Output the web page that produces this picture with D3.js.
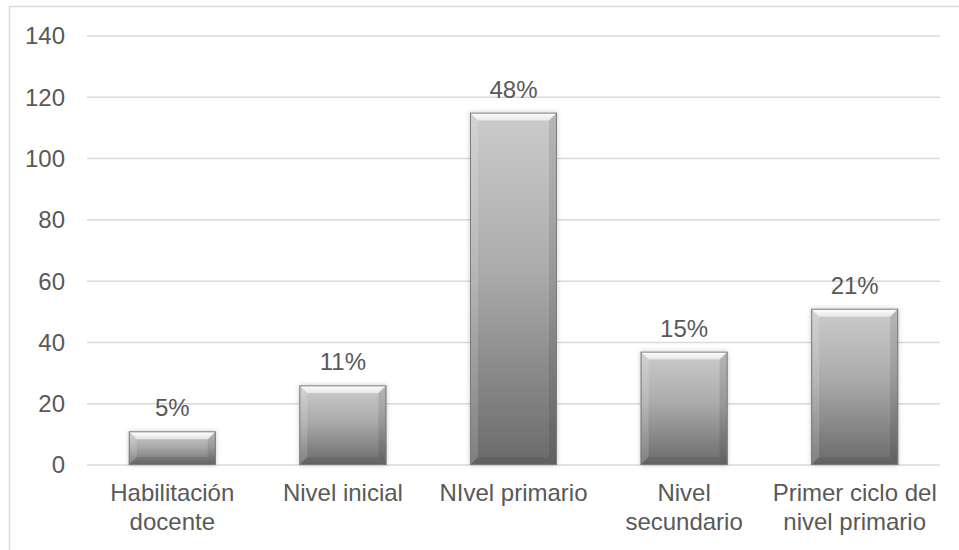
<!DOCTYPE html>
<html>
<head>
<meta charset="utf-8">
<script src="https://cdn.jsdelivr.net/npm/d3@7"></script>
<style>
  body { margin: 0; background: #fff; }
  text { font-family: "Liberation Sans", Arial, sans-serif; fill: #595959; }
</style>
</head>
<body>
<svg id="chart" width="959" height="550"></svg>
<script>
// data
const categories = [["Habilitación", "docente"], ["Nivel inicial"], ["NIvel primario"], ["Nivel", "secundario"], ["Primer ciclo del", "nivel primario"]]
const values = [11, 26, 115, 37, 51]
const percentLabels = ["5%", "11%", "48%", "15%", "21%"]
const yTicks = [0, 20, 40, 60, 80, 100, 120, 140]

const W = 959, H = 550
const plot = { left: 87, right: 940, top: 36, bottom: 465 }
const bevel = 8
const fontSize = 24

const svg = d3.select('#chart')

// frame (left and top only show in the crop)
svg.append('path')
	.attr('d', `M9.5,${H} V6.5 H${W}`)
	.attr('fill', 'none')
	.attr('stroke', '#d9d9d9')
	.attr('stroke-width', 1.5)

const x = d3.scaleBand()
	.domain(d3.range(values.length))
	.range([plot.left, plot.right])
	.paddingInner(0.49)
	.paddingOuter(0.245)

const y = d3.scaleLinear()
	.domain([0, 140])
	.range([plot.bottom, plot.top])

// gradients
const defs = svg.append('defs')
const body = defs.append('linearGradient').attr('id', 'body')
	.attr('x1', 0).attr('y1', 0).attr('x2', 0).attr('y2', 1)
body.append('stop').attr('offset', 0).attr('stop-color', '#cccccc')
body.append('stop').attr('offset', 0.45).attr('stop-color', '#ababab')
body.append('stop').attr('offset', 1).attr('stop-color', '#6a6a6a')

const topBevel = defs.append('linearGradient').attr('id', 'topBevel')
	.attr('x1', 0).attr('y1', 0).attr('x2', 0).attr('y2', 1)
topBevel.append('stop').attr('offset', 0).attr('stop-color', '#ffffff').attr('stop-opacity', 1)
topBevel.append('stop').attr('offset', 1).attr('stop-color', '#ffffff').attr('stop-opacity', 0.55)

const filter = defs.append('filter').attr('id', 'shadow')
	.attr('x', '-20%').attr('y', '-20%').attr('width', '140%').attr('height', '140%')
filter.append('feDropShadow')
	.attr('dx', 0).attr('dy', 0).attr('stdDeviation', 2.5)
	.attr('flood-color', '#000').attr('flood-opacity', 0.22)

// grid
svg.append('g')
	.selectAll('line')
	.data(yTicks)
	.join('line')
	.attr('x1', plot.left).attr('x2', plot.right)
	.attr('y1', d => y(d)).attr('y2', d => y(d))
	.attr('stroke', '#d9d9d9')
	.attr('stroke-width', 1.5)

// y labels
svg.append('g')
	.selectAll('text')
	.data(yTicks)
	.join('text')
	.attr('x', 65)
	.attr('y', d => y(d))
	.attr('dy', '0.35em')
	.attr('text-anchor', 'end')
	.attr('font-size', fontSize)
	.text(d => d)

// bars
const bars = svg.append('g')
	.selectAll('g')
	.data(values)
	.join('g')
	.attr('transform', (d, i) => `translate(${x(i)},${y(d)})`)

bars.append('rect')
	.attr('width', x.bandwidth())
	.attr('height', d => y(0) - y(d))
	.attr('fill', 'url(#body)')
	.attr('filter', 'url(#shadow)')

// bevel facets
const w = x.bandwidth()
bars.append('path')  // top
	.attr('d', `M0,0 H${w} L${w - bevel},${bevel} H${bevel} Z`)
	.attr('fill', 'url(#topBevel)')
bars.append('path')  // left
	.attr('d', d => { let h = y(0) - y(d); return `M0,0 L${bevel},${bevel} V${h - bevel} L0,${h} Z` })
	.attr('fill', '#ffffff').attr('fill-opacity', 0.15)
bars.append('path')  // right
	.attr('d', d => { let h = y(0) - y(d); return `M${w},0 L${w - bevel},${bevel} V${h - bevel} L${w},${h} Z` })
	.attr('fill', '#000000').attr('fill-opacity', 0.1)
bars.append('path')  // bottom
	.attr('d', d => { let h = y(0) - y(d); return `M0,${h} L${bevel},${h - bevel} H${w - bevel} L${w},${h} Z` })
	.attr('fill', '#000000').attr('fill-opacity', 0.08)

bars.append('rect')
	.attr('x', 0.5).attr('y', 0.5)
	.attr('width', w - 1)
	.attr('height', d => y(0) - y(d) - 1)
	.attr('fill', 'none')
	.attr('stroke', '#7a7a7a')
	.attr('stroke-width', 1)

// data labels
svg.append('g')
	.selectAll('text')
	.data(values)
	.join('text')
	.attr('x', (d, i) => x(i) + x.bandwidth() / 2)
	.attr('y', d => y(d) - 15)
	.attr('text-anchor', 'middle')
	.attr('font-size', fontSize)
	.text((d, i) => percentLabels[i])

// category labels
svg.append('g')
	.selectAll('text')
	.data(categories)
	.join('text')
	.attr('x', (d, i) => x(i) + x.bandwidth() / 2)
	.attr('y', 493)
	.attr('text-anchor', 'middle')
	.attr('font-size', fontSize)
	.each(function (d) {
		d3.select(this).selectAll('tspan')
			.data(d)
			.join('tspan')
			.attr('x', d3.select(this).attr('x'))
			.attr('dy', (t, j) => j === 0 ? '0.35em' : '1.2em')
			.text(t => t)
	})
</script>
</body>
</html>
